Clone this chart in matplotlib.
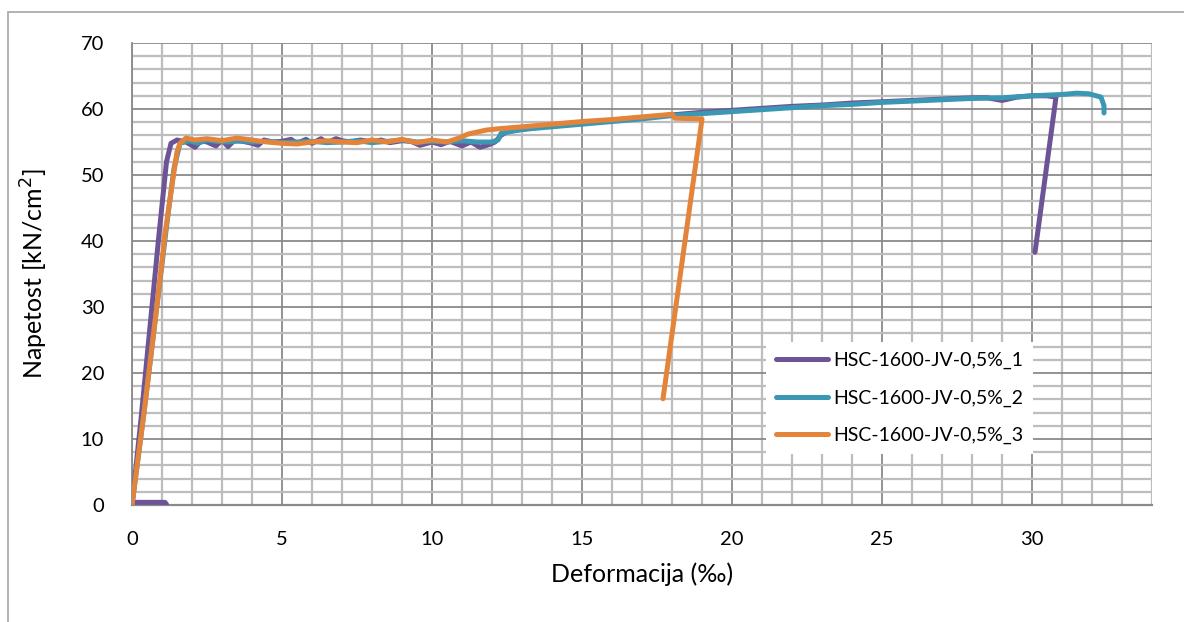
import matplotlib
matplotlib.use("Agg")
import matplotlib.pyplot as plt
from matplotlib.patches import Rectangle
from matplotlib.ticker import MultipleLocator

# ---- data (strain in per mille, stress in kN/cm2) ----
labels = ["HSC-1600-JV-0,5%_1", "HSC-1600-JV-0,5%_2", "HSC-1600-JV-0,5%_3"]
colors = ["#6d5497", "#3b98b4", "#e3843a"]

x1 = [1.15, 1.1, 0.05, 0.0, 0.3, 0.6, 0.9, 1.15, 1.3, 1.5, 1.8, 2.1, 2.3, 2.5, 2.8,
      3.0, 3.2, 3.4, 3.7, 4.0, 4.2, 4.4, 4.7, 5.0, 5.3, 5.5, 5.8, 6.0, 6.3, 6.5,
      6.8, 7.0, 7.3, 7.6, 8.0, 8.3, 8.6, 9.0, 9.3, 9.6, 10.0, 10.3, 10.6, 11.0,
      11.3, 11.6, 11.9, 12.1, 12.3, 12.5, 13, 14, 15, 16, 17, 18, 19, 20, 21, 22,
      23, 24, 25, 26, 27, 28, 28.5, 29, 29.5, 30, 30.5, 30.8, 30.1]
y1 = [0.1, 0.4, 0.4, 0.0, 13, 27, 41, 52, 54.8, 55.3, 55.0, 54.2, 55.2, 55.0, 54.4,
      55.3, 54.3, 55.2, 55.1, 54.8, 54.5, 55.3, 55.0, 55.1, 55.4, 54.8, 55.4, 54.8,
      55.5, 54.9, 55.5, 55.2, 55.0, 55.3, 55.0, 55.3, 54.9, 55.2, 55.1, 54.5, 55.0,
      54.6, 55.1, 54.4, 55.0, 54.2, 54.6, 55.0, 56.0, 56.6, 56.9, 57.5, 57.9, 58.3,
      58.7, 59.1, 59.5, 59.8, 60.1, 60.4, 60.6, 60.9, 61.1, 61.3, 61.5, 61.7, 61.7,
      61.3, 61.8, 62.0, 62.0, 61.8, 38.3]

x2 = [0, 0.4, 0.8, 1.2, 1.4, 1.6, 1.9, 2.2, 2.5, 2.8, 3.2, 3.6, 4.0, 4.5, 5, 5.5, 6,
      6.5, 7, 7.5, 8, 8.5, 9, 9.5, 10, 10.5, 11, 11.5, 12, 12.2, 12.3, 13, 14, 15,
      16, 17, 18, 19, 20, 21, 22, 23, 24, 25, 26, 27, 28, 29, 30, 31, 31.5, 31.9,
      32.3, 32.4, 32.4]
y2 = [0, 14, 29, 44, 51, 54.8, 55.2, 54.8, 55.3, 55.1, 55.0, 55.2, 55.0, 55.1, 54.9,
      55.0, 55.1, 54.9, 55.0, 55.2, 54.9, 55.1, 55.3, 55.0, 55.1, 55.0, 55.2, 55.0,
      55.0, 55.3, 56.3, 56.9, 57.3, 57.7, 58.1, 58.5, 59.0, 59.3, 59.6, 59.9, 60.2,
      60.5, 60.7, 61.0, 61.2, 61.4, 61.6, 61.7, 62.0, 62.2, 62.4, 62.3, 61.8, 60.5,
      59.4]

x3 = [0, 0.4, 0.8, 1.1, 1.35, 1.5, 1.6, 1.8, 2.1, 2.5, 3.0, 3.5, 4.0, 4.5, 5.0, 5.5,
      6.0, 6.5, 7.0, 7.5, 8.0, 8.5, 9.0, 9.5, 10.0, 10.5, 10.9, 11.2, 11.5, 11.8,
      12.2, 13, 14, 15, 16, 17, 17.5, 18.0, 18.1, 19.0, 17.7]
y3 = [0, 14, 29, 41, 49, 53.5, 54.8, 55.6, 55.3, 55.5, 55.2, 55.6, 55.3, 55.0, 54.8,
      54.7, 55.0, 55.2, 55.0, 54.9, 55.3, 55.0, 55.4, 54.9, 55.3, 55.0, 55.6, 56.2,
      56.5, 56.8, 57.0, 57.3, 57.7, 58.1, 58.4, 58.8, 59.0, 59.2, 58.6, 58.5, 16.1]

xs = [x1, x2, x3]
ys = [y1, y2, y3]

plt.rcParams['font.family'] = ['Lato', 'DejaVu Sans']

fig = plt.figure(figsize=(11.84, 6.22), dpi=100)
ax = fig.add_axes([132 / 1184, 117 / 622, 1020 / 1184, 462 / 622])

# outer chart-area border like the spreadsheet frame
fig.patches.append(Rectangle((8 / 1184, -0.1), 1.2, 1 - 12 / 622 + 0.1,
                             transform=fig.transFigure, fill=False,
                             edgecolor="#a6a6a6", linewidth=1.2))

for x, y, c, lab in zip(xs, ys, colors, labels):
    ax.plot(x, y, color=c, linewidth=3.6, label=lab, solid_joinstyle="round",
            solid_capstyle="round", zorder=3)

ax.set_xlim(0, 34)
ax.set_ylim(0, 70)
ax.xaxis.set_major_locator(MultipleLocator(5))
ax.xaxis.set_minor_locator(MultipleLocator(1))
ax.yaxis.set_major_locator(MultipleLocator(10))
ax.yaxis.set_minor_locator(MultipleLocator(2))

ax.grid(which="minor", color="#bdbdbd", linewidth=1.6, zorder=0)
ax.grid(which="major", color="#8a8a8a", linewidth=1.3, zorder=1)
ax.set_axisbelow(True)

for s in ["top", "right"]:
    ax.spines[s].set_visible(False)
ax.spines["left"].set_color("#8a8a8a")
ax.spines["bottom"].set_color("#8a8a8a")
ax.spines["left"].set_linewidth(1.3)
ax.spines["bottom"].set_linewidth(1.6)

ax.tick_params(which="both", length=0, labelsize=14.5, colors="black")
ax.tick_params(axis="y", pad=20)
ax.tick_params(axis="x", pad=19)

ax.set_xlabel("Deformacija (‰)", fontsize=18, labelpad=10)
ax.set_ylabel("Napetost [kN/cm$^2$]", fontsize=18, labelpad=22)

leg = ax.legend(loc="upper left", bbox_to_anchor=(766 / 1184, 1 - 342 / 622),
                bbox_transform=fig.transFigure, fontsize=14, frameon=True,
                fancybox=False, edgecolor="none", facecolor="white", framealpha=1,
                handlelength=2.7, handletextpad=0.25, labelspacing=1.05,
                borderpad=0.5, borderaxespad=0)
leg.set_zorder(5)
for line in leg.get_lines():
    line.set_linewidth(3.6)

fig.savefig("out.png", dpi=100)
